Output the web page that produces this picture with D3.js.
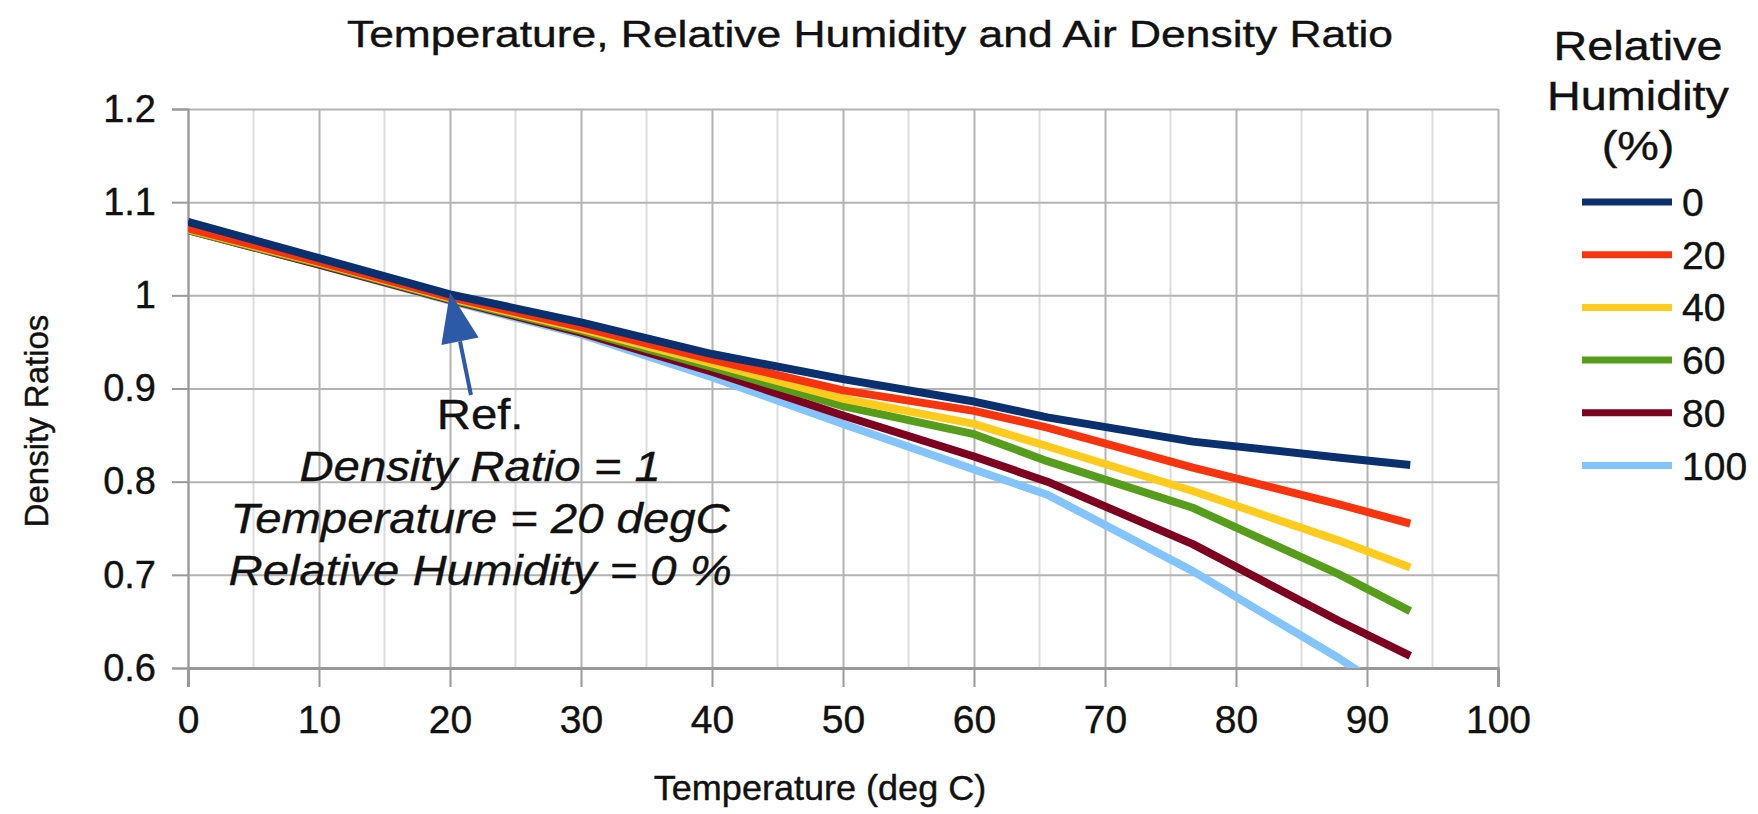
<!DOCTYPE html>
<html>
<head>
<meta charset="utf-8">
<script src="https://cdn.jsdelivr.net/npm/d3@7"></script>
<style>
  body { margin: 0; background: white; }
  text { font-family: "Liberation Sans", Arial, sans-serif; fill: #111; stroke: #111; stroke-width: 0.4px; }
</style>
</head>
<body>
<svg id="chart"></svg>
<script>
// Air density ratio vs temperature, one line per relative humidity
const temperatures = [0, 10, 20, 30, 40, 50, 60, 65.6, 76.7, 87.8, 93.3];
const humidityLevels = ["0", "20", "40", "60", "80", "100"];
const rh0 = [1.079, 1.040, 1.001, 0.971, 0.937, 0.910, 0.886, 0.869, 0.843, 0.826, 0.818];
const rh20 = [1.072, 1.036, 0.998, 0.966, 0.931, 0.898, 0.876, 0.858, 0.815, 0.776, 0.755];
const rh40 = [1.071, 1.035, 0.997, 0.964, 0.927, 0.889, 0.862, 0.838, 0.790, 0.737, 0.708];
const rh60 = [1.070, 1.034, 0.996, 0.962, 0.923, 0.881, 0.851, 0.822, 0.772, 0.701, 0.661];
const rh80 = [1.070, 1.033, 0.995, 0.960, 0.918, 0.871, 0.827, 0.800, 0.733, 0.651, 0.613];
const rh100 = [1.070, 1.033, 0.994, 0.958, 0.912, 0.862, 0.813, 0.786, 0.704, 0.611, 0.560];
const seriesValues = [rh0, rh20, rh40, rh60, rh80, rh100];
const lineColors = ["#0a3070", "#f8340f", "#ffcc1e", "#579d1c", "#7e0021", "#83c4fc"];

const xTicks = [0, 10, 20, 30, 40, 50, 60, 70, 80, 90, 100];
const yTicks = [0.6, 0.7, 0.8, 0.9, 1.0, 1.1, 1.2];
const yTickLabels = ["0.6", "0.7", "0.8", "0.9", "1", "1.1", "1.2"];
const noteLines = ["Ref.", "Density Ratio = 1", "Temperature = 20 degC", "Relative Humidity = 0 %"];

var dimensions = {
    width: 1758,
    height: 814,
    margin: { top: 109, bottom: 146, right: 260, left: 188 }
};

var svg = d3.select("#chart")
    .attr("width", dimensions.width)
    .attr("height", dimensions.height);

var xScale = d3.scaleLinear()
    .domain([0, 100])
    .range([dimensions.margin.left, dimensions.width - dimensions.margin.right]);

var yScale = d3.scaleLinear()
    .domain([0.6, 1.2])
    .range([dimensions.height - dimensions.margin.bottom, dimensions.margin.top]);

var plotBottom = dimensions.height - dimensions.margin.bottom;
var plotRight = dimensions.width - dimensions.margin.right;

// text in the source picture is a bit wider than Liberation Sans, so stretch it
function wideText(parent, x, y, str, size, sx) {
    return parent.append("text")
        .attr("transform", `translate(${x},${y}) scale(${sx},1)`)
        .attr("text-anchor", "middle")
        .style("font-size", size + "px")
        .text(str);
}

// minor vertical grid (every 5 deg)
svg.append("g")
    .selectAll("line")
    .data(d3.range(5, 100, 10))
    .join("line")
    .attr("x1", d => xScale(d)).attr("x2", d => xScale(d))
    .attr("y1", dimensions.margin.top).attr("y2", plotBottom)
    .attr("stroke", "#dcdcdc")
    .attr("stroke-width", 2);

// major grid
svg.append("g")
    .attr("transform", `translate(0,${plotBottom})`)
    .call(d3.axisBottom(xScale).tickValues(xTicks)
        .tickSize(-(plotBottom - dimensions.margin.top)).tickFormat(""))
    .call(g => g.select(".domain").remove())
    .call(g => g.selectAll("line").attr("stroke", "#b3b3b3").attr("stroke-width", 2));

svg.append("g")
    .attr("transform", `translate(${dimensions.margin.left},0)`)
    .call(d3.axisLeft(yScale).tickValues(yTicks)
        .tickSize(-(plotRight - dimensions.margin.left)).tickFormat(""))
    .call(g => g.select(".domain").remove())
    .call(g => g.selectAll("line").attr("stroke", "#b3b3b3").attr("stroke-width", 2));

// Add x-axis
svg.append("g")
    .attr("class", "x-axis")
    .attr("transform", `translate(0,${plotBottom})`)
    .call(d3.axisBottom(xScale).tickValues(xTicks).tickSize(19).tickPadding(18))
    .call(g => g.select(".domain").attr("stroke", "#999").attr("stroke-width", 3))
    .call(g => g.selectAll("line").attr("stroke", "#999").attr("stroke-width", 2))
    .call(g => g.selectAll("text").style("font-size", "39px").attr("fill", "#111"));

// Add y-axis
svg.append("g")
    .attr("class", "y-axis")
    .attr("transform", `translate(${dimensions.margin.left},0)`)
    .call(d3.axisLeft(yScale).tickValues(yTicks).tickSize(16).tickPadding(16)
        .tickFormat((d, i) => yTickLabels[i]))
    .call(g => g.select(".domain").attr("stroke", "#999").attr("stroke-width", 2))
    .call(g => g.selectAll("line").attr("stroke", "#999").attr("stroke-width", 2))
    .call(g => g.selectAll("text").style("font-size", "38px").attr("fill", "#111"));

svg.append("defs").append("clipPath")
    .attr("id", "plot-clip")
    .append("rect")
    .attr("x", dimensions.margin.left)
    .attr("y", dimensions.margin.top)
    .attr("width", plotRight - dimensions.margin.left)
    .attr("height", plotBottom - dimensions.margin.top);

var line = d3.line()
    .x((d, i) => xScale(temperatures[i]))
    .y(d => yScale(d));

// draw 100% first so the dry-air line ends up on top
var order = d3.range(seriesValues.length).reverse();
svg.append("g")
    .attr("clip-path", "url(#plot-clip)")
    .selectAll(".rh-line")
    .data(order)
    .join("path")
    .attr("class", "rh-line")
    .attr("d", i => line(seriesValues[i]))
    .attr("fill", "none")
    .attr("stroke", i => lineColors[i])
    .attr("stroke-width", 8)
    .attr("stroke-linejoin", "round");

// reference arrow
var tipX = xScale(20), tipY = yScale(1.0) - 3;
var tailX = xScale(21.6), tailY = yScale(0.893);
var ang = Math.atan2(tipY - tailY, tipX - tailX);
var headLen = 50, headHalf = 19;
var bx = tipX - headLen * Math.cos(ang), by = tipY - headLen * Math.sin(ang);
svg.append("line")
    .attr("x1", tailX).attr("y1", tailY)
    .attr("x2", bx).attr("y2", by)
    .attr("stroke", "#2c5aa6")
    .attr("stroke-width", 4);
svg.append("polygon")
    .attr("points", [
        [tipX, tipY],
        [bx + headHalf * Math.sin(ang), by - headHalf * Math.cos(ang)],
        [bx - headHalf * Math.sin(ang), by + headHalf * Math.cos(ang)]
    ].map(p => p.join(",")).join(" "))
    .attr("fill", "#2c5aa6");

var note = svg.append("g");
noteLines.forEach((d, i) => {
    wideText(note, xScale(22.3), yScale(0.857) + i * 52, d, 43, 1.1)
        .style("font-style", i === 0 ? "normal" : "italic");
});

// titles
wideText(svg, 870, 47, "Temperature, Relative Humidity and Air Density Ratio", 37, 1.2);

wideText(svg, 820, 800, "Temperature (deg C)", 35, 1.03)
    .attr("class", "x-label");

svg.append("text")
    .attr("class", "y-label")
    .attr("text-anchor", "middle")
    .attr("transform", "translate(48,421) rotate(-90)")
    .style("font-size", "33px")
    .text("Density Ratios");

// Add legend
var legendTitle = ["Relative", "Humidity", "(%)"];
legendTitle.forEach((d, i) => wideText(svg, 1638, 60 + i * 50, d, 41, 1.14));

var legend = svg.selectAll(".legend")
    .data(humidityLevels)
    .join("g")
    .attr("class", "legend")
    .attr("transform", (d, i) => `translate(1582,${202 + i * 52.7})`);

legend.append("line")
    .attr("x1", 0).attr("x2", 90)
    .attr("stroke", (d, i) => lineColors[i])
    .attr("stroke-width", 7);

legend.append("text")
    .attr("x", 100)
    .attr("dy", "0.36em")
    .style("font-size", "39px")
    .text(d => d);
</script>
</body>
</html>
